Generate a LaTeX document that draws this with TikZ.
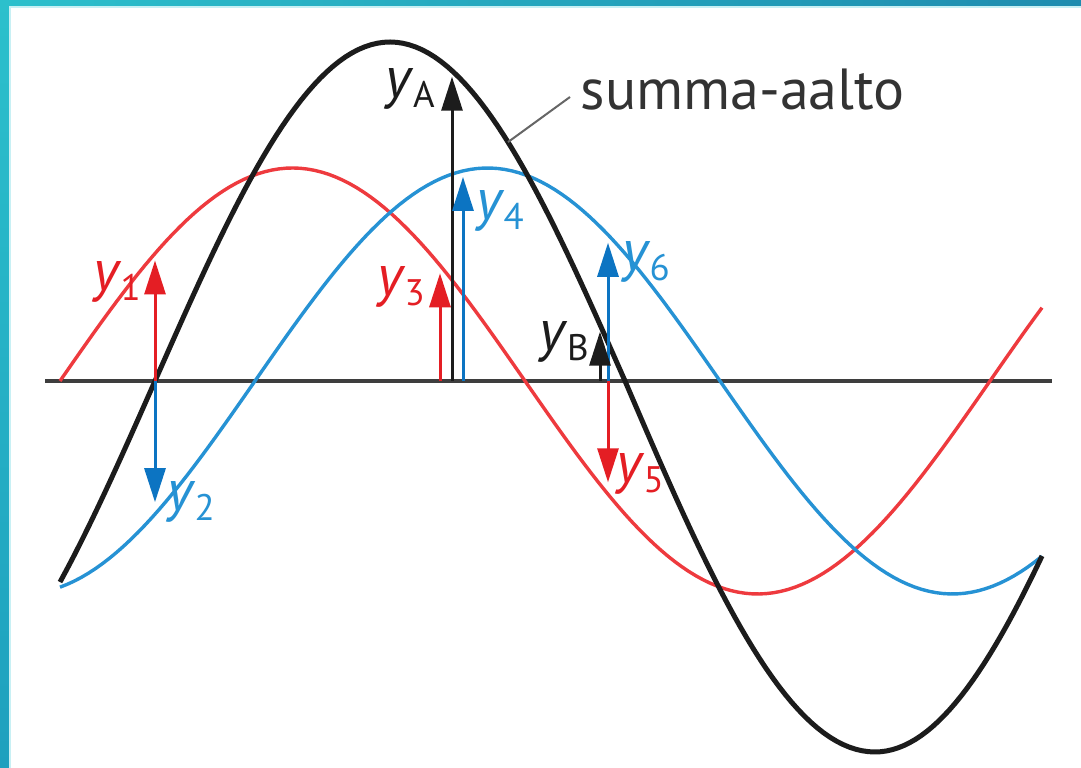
\documentclass[tikz,border=0pt]{standalone}
\usepackage{fontspec}
\setmainfont{PT Sans}
\usepackage{xcolor}
\usepackage{tikz}
\usetikzlibrary{arrows.meta}

\definecolor{wavered}{RGB}{238,58,62}
\definecolor{arrowred}{RGB}{228,30,36}
\definecolor{waveblue}{RGB}{38,146,212}
\definecolor{arrowblue}{RGB}{12,116,194}
\definecolor{wavesum}{RGB}{28,28,28}
\definecolor{axisgray}{RGB}{62,62,62}
\definecolor{frameA}{RGB}{44,192,204}
\definecolor{frameB}{RGB}{30,140,175}
\definecolor{frameC}{RGB}{30,160,190}
\definecolor{framelite}{RGB}{200,240,244}

\newcommand{\ylab}[1]{\textit{y}\kern-0.2pt\raisebox{-2.8pt}{\fontsize{10.5}{11}\selectfont #1}}

\begin{document}
\begin{tikzpicture}[
  x=0.1mm, y=0.1mm,
  font=\fontsize{16.5}{19}\selectfont,
  declare function={
    wred(\x)=213*sin((\x-60)/465*180);
    wblue(\x)=213*sin((\x-255)/465*180);
    wsum(\x)=339*sin((\x-155)/470*180);
  },
  redwave/.style={wavered, line width=0.34mm},
  bluewave/.style={waveblue, line width=0.34mm},
  sumwave/.style={wavesum, line width=0.5mm, line join=round},
  redarrow/.style={arrowred, line width=0.3mm, -{Triangle[length=3.4mm,width=2.1mm]}},
  bluearrow/.style={arrowblue, line width=0.3mm, -{Triangle[length=3.4mm,width=2.1mm]}},
  sumarrow/.style={wavesum, line width=0.3mm, -{Triangle[length=3.4mm,width=2.1mm]}},
  lbl/.style={inner sep=0pt},
  leader/.style={gray!80!black, line width=0.2mm},
]
% Page and frame
\useasboundingbox (0,-387) rectangle (1081,381);
\fill[white] (0,-387) rectangle (1081,381);
\fill[left color=frameA, right color=frameB] (0,381) rectangle (1081,375);
\fill[top color=frameA, bottom color=frameC] (0,381) rectangle (9,-387);
\draw[framelite, line width=0.2mm] (10,-387) -- (10,374) -- (1081,374);

% Axis
\coordinate (axl) at (45,0);
\coordinate (axr) at (1052,0);
\draw[axisgray, line width=0.4mm] (axl) -- (axr);

% Component waves and their sum
\draw[redwave]  plot[domain=60:1042, samples=140] (\x,{wred(\x)});
\draw[bluewave] plot[domain=60:1042, samples=140] (\x,{wblue(\x)});
\draw[sumwave]  plot[domain=60:625, samples=90] (\x,{wsum(\x)})
  -- plot[domain=625:875, samples=40] (\x,{-371*sin((\x-625)/250*90)})
  -- plot[domain=875:1042, samples=30] (\x,{-371*cos((\x-875)/243*90)});

% Displacement arrows
\coordinate (b1) at (155,0);  \coordinate (t1) at (155,{wred(155)-7});
\coordinate (b2) at (155,0);  \coordinate (t2) at (155,{wblue(155)+12});
\coordinate (b3) at (440,0);  \coordinate (t3) at (440,{wred(440)-8});
\coordinate (bA) at (452,0);  \coordinate (tA) at (452,{wsum(452)-6});
\coordinate (b4) at (463,0);  \coordinate (t4) at (463,{wblue(463)-6});
\coordinate (b5) at (608,0);  \coordinate (t5) at (608,{wred(608)+12});
\coordinate (b6) at (608,0);  \coordinate (t6) at (608,{wblue(608)-8});
\coordinate (bB) at (600,0);  \coordinate (tB) at (600,{wsum(600)-7});

\draw[redarrow]  (b1) -- (t1);
\draw[bluearrow] (b2) -- (t2);
\draw[redarrow]  (b3) -- (t3);
\draw[sumarrow]  (bA) -- (tA);
\draw[bluearrow] (b4) -- (t4);
\draw[redarrow]  (b5) -- (t5);
\draw[bluearrow] (b6) -- (t6);
\draw[sumarrow]  (bB) -- (tB);

% Labels
\node[lbl, text=arrowred]  (ly1) at (117,99)   {\ylab{1}};
\node[lbl, text=waveblue]  (ly2) at (191,-121) {\ylab{2}};
\node[lbl, text=arrowred]  (ly3) at (401,94)   {\ylab{3}};
\node[lbl, text=waveblue]  (ly4) at (500,170)  {\ylab{4}};
\node[lbl, text=arrowred]  (ly5) at (640,-93)  {\ylab{5}};
\node[lbl, text=waveblue]  (ly6) at (646,119)  {\ylab{6}};
\node[lbl, text=wavesum]   (lyA) at (410,292)  {\ylab{A}};
\node[lbl, text=wavesum]   (lyB) at (564,39)   {\ylab{B}};

% Sum wave caption
\node[anchor=base west, inner sep=0pt, text=wavesum!90] (sumlbl) at (580,271) {summa-aalto};
\coordinate (lead) at (508,{wsum(508)});
\coordinate (leadend) at (570,284);
\draw[leader] (lead) -- (leadend);
\end{tikzpicture}
\end{document}
